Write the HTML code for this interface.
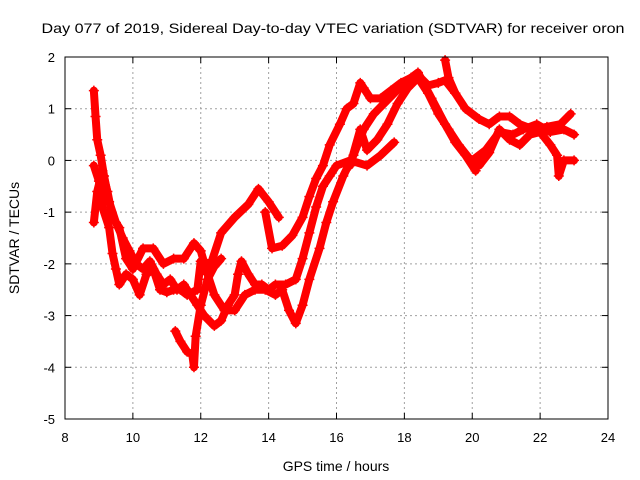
<!DOCTYPE html>
<html><head><meta charset="utf-8"><style>
body{margin:0;background:#fff}
svg{display:block;font-family:"Liberation Sans",sans-serif}
</style></head><body>
<svg id="chart" width="640" height="480">
<rect width="640" height="480" fill="#fff"/>
<text x="333" y="33" font-size="14" text-anchor="middle" textLength="583" lengthAdjust="spacingAndGlyphs">Day 077 of 2019, Sidereal Day-to-day VTEC variation (SDTVAR) for receiver oron</text>
<g id="grid"></g>
<g id="series"></g>
<rect x="65" y="57" width="543" height="362" fill="none" stroke="#000" stroke-width="1"/>
<g id="ticks"></g>
<text x="336" y="471" font-size="14" text-anchor="middle">GPS time / hours</text>
<text transform="translate(19,238) rotate(-90)" font-size="14" text-anchor="middle">SDTVAR / TECUs</text>
</svg>
<script>
const xTicks=[8,10,12,14,16,18,20,22,24];
const yTicks=[-5,-4,-3,-2,-1,0,1,2];
const track1=[[8.85,1.35],[8.9,0.85],[8.95,0.4],[9.05,0.1],[9.15,-0.3],[9.3,-0.8],[9.5,-1.2],[9.7,-1.5],[9.9,-1.75],[10.1,-2.0],[10.3,-2.1],[10.5,-1.95],[10.7,-2.2],[10.9,-2.4],[11.1,-2.3],[11.3,-2.5],[11.5,-2.4],[11.7,-2.6],[11.9,-2.8],[12.1,-3.0],[12.4,-3.2],[12.6,-3.1],[12.8,-2.8],[13.0,-2.6],[13.1,-2.2],[13.2,-1.95],[13.4,-2.2],[13.6,-2.4],[13.8,-2.4],[14.0,-2.5],[14.2,-2.4],[14.5,-2.4],[14.8,-2.3],[15.0,-1.9],[15.2,-1.4],[15.4,-0.9],[15.6,-0.5],[15.8,-0.3],[16.0,-0.1],[16.4,0.0],[16.9,-0.1],[17.3,0.1],[17.7,0.35]];
const track2=[[8.85,-0.1],[9.0,-0.4],[9.1,-0.9],[9.3,-1.3],[9.4,-1.8],[9.5,-2.1],[9.6,-2.4],[9.8,-2.2],[10.0,-2.3],[10.2,-2.6],[10.4,-2.2],[10.6,-2.1],[10.8,-2.5],[11.0,-2.55],[11.2,-2.5],[11.4,-2.5],[11.6,-2.6],[11.9,-2.5],[12.0,-1.95],[12.3,-2.0],[12.6,-1.4],[13.0,-1.1],[13.4,-0.85],[13.7,-0.55],[14.0,-0.8],[14.3,-1.1]];
const track3=[[8.85,-1.2],[8.95,-0.6],[9.1,-0.2],[9.25,-0.6],[9.4,-1.1],[9.6,-1.3],[9.8,-1.9],[10.0,-2.1],[10.3,-1.7],[10.6,-1.7],[10.9,-2.0],[11.2,-1.9],[11.5,-1.9],[11.8,-1.6],[12.0,-1.75],[12.2,-2.2],[12.4,-2.6],[12.7,-2.9],[13.0,-2.9],[13.3,-2.6],[13.6,-2.5],[13.9,-2.5],[14.2,-2.6],[14.4,-2.5],[14.6,-2.9],[14.8,-3.15],[15.0,-2.8],[15.2,-2.3],[15.5,-1.7],[15.7,-1.2],[15.9,-0.8],[16.2,-0.3],[16.5,0.1],[16.8,0.6],[17.1,0.9],[17.4,1.1],[17.7,1.3],[18.0,1.5],[18.4,1.7],[18.8,1.2],[19.2,0.7],[19.5,0.35],[19.8,0.1],[20.1,-0.2]];
const track4=[[13.9,-1.0],[14.1,-1.7],[14.4,-1.65],[14.7,-1.45],[15.0,-1.1],[15.2,-0.7],[15.4,-0.35],[15.6,-0.1],[15.8,0.3],[16.1,0.7],[16.3,1.0],[16.5,1.1],[16.7,1.5],[16.8,1.4],[17.0,1.2],[17.3,1.2],[17.6,1.35],[17.9,1.5],[18.2,1.6],[18.4,1.65],[18.7,1.45],[19.0,1.5],[19.2,1.55],[19.5,1.3],[19.8,1.0],[20.2,0.8],[20.5,0.7],[20.8,0.85],[21.1,0.85],[21.4,0.7],[21.8,0.6],[22.2,0.65],[22.6,0.7],[22.9,0.9]];
const track5=[[19.2,1.94],[19.3,1.6],[19.5,1.3]];
const track6=[[11.25,-3.3],[11.4,-3.5],[11.6,-3.7],[11.75,-3.75],[11.8,-4.0],[11.85,-3.4],[12.0,-2.8],[12.2,-2.3],[12.4,-2.05],[12.6,-1.9]];
const track7=[[16.4,-0.1],[16.7,0.6],[16.9,0.2],[17.2,0.4],[17.5,0.7],[17.8,1.1],[18.1,1.4],[18.4,1.6],[18.7,1.3],[19.0,0.9],[19.3,0.6],[19.6,0.3],[19.9,0.05],[20.2,-0.1],[20.5,0.15],[20.8,0.6],[21.1,0.4],[21.4,0.3],[21.7,0.5],[22.0,0.55],[22.3,0.3],[22.5,0.1],[22.55,-0.3],[22.7,0.0],[23.0,0.0]];
const track8=[[20.0,0.0],[20.4,0.2],[20.8,0.55],[21.2,0.5],[21.5,0.6],[21.9,0.7],[22.3,0.55],[22.7,0.6],[23.0,0.5]];
const tracks=[track1,track2,track3,track4,track5,track6,track7,track8];

const NS="http://www.w3.org/2000/svg";
const X0=65,X1=608,Y0=419,Y1=57;
function xs(t){return X0+(t-8)/(24-8)*(X1-X0);}
function ys(v){return Y0-(v+5)/(2+5)*(Y0-Y1);}
function mk(tag,attrs,parent){const e=document.createElementNS(NS,tag);for(const k in attrs)e.setAttribute(k,attrs[k]);parent.appendChild(e);return e;}
const grid=document.getElementById('grid'),ticks=document.getElementById('ticks'),ser=document.getElementById('series');
xTicks.forEach(t=>{
  const x=xs(t);
  if(t>8&&t<24){const g=mk('line',{x1:x,x2:x,y1:Y1,y2:Y0,stroke:'#a0a0a0','stroke-dasharray':'2,3'},grid);
  
  }
  mk('line',{x1:x,x2:x,y1:Y0,y2:Y0-6,stroke:'#000'},ticks);
  mk('line',{x1:x,x2:x,y1:Y1,y2:Y1+6,stroke:'#000'},ticks);
  const l=mk('text',{x:x,y:Y0+23,'font-size':13,'text-anchor':'middle'},ticks);l.textContent=t;
  
  
});
yTicks.forEach(v=>{
  const y=ys(v);
  if(v>-5&&v<2){const g=mk('line',{x1:X0,x2:X1,y1:y,y2:y,stroke:'#a0a0a0','stroke-dasharray':'2,3'},grid);
  
  }
  mk('line',{x1:X0,x2:X0+6,y1:y,y2:y,stroke:'#000'},ticks);
  mk('line',{x1:X1,x2:X1-6,y1:y,y2:y,stroke:'#000'},ticks);
  const l=mk('text',{x:X0-10,y:y+5,'font-size':13,'text-anchor':'end'},ticks);l.textContent=v;
  
  
});
tracks.forEach((tr,i)=>{
  const pts=tr.map(p=>xs(p[0])+','+ys(p[1])).join(' ');
  const pl=mk('polyline',{points:pts,fill:'none',stroke:'#ff0000','stroke-width':8,'stroke-linejoin':'round','stroke-linecap':'round'},ser);
  
  
  tr.forEach(p=>{
    const x=xs(p[0]),y=ys(p[1]);
    const m=mk('path',{d:`M${x-5},${y}h10M${x},${y-5}v10`,stroke:'#ff0000','stroke-width':1.5},ser);
    
    
  });
});
</script>
</body></html>
